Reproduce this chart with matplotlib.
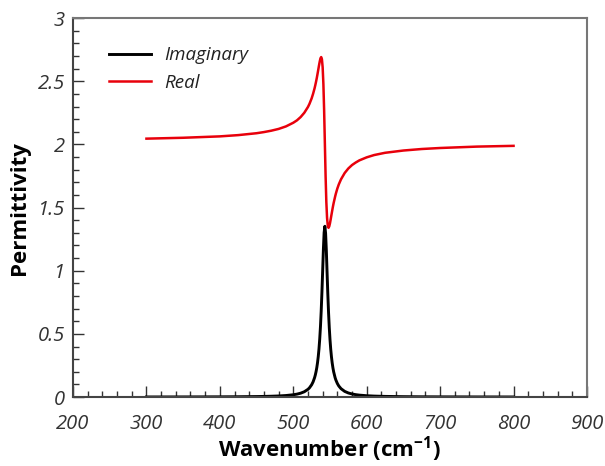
import matplotlib

matplotlib.use("Agg")
import matplotlib.pyplot as plt
from matplotlib.ticker import FuncFormatter, MultipleLocator

plt.rcParams["font.family"] = ["Open Sans", "DejaVu Sans"]
plt.rcParams["mathtext.fontset"] = "custom"
plt.rcParams["mathtext.rm"] = "Open Sans"
plt.rcParams["mathtext.bf"] = "Open Sans:bold"

# valeurs (nombre d'onde en cm-1)
wavenumber = [
    300, 350, 400, 425, 450, 460, 470, 480, 490, 500, 505, 510, 515, 520,
    522, 525, 527, 529, 530, 531, 532, 533, 534, 535, 536, 537, 538, 539,
    540, 541, 542, 543, 544, 545, 546, 547, 548, 549, 550, 551, 552, 553,
    554, 555, 557, 558, 560, 562, 565, 570, 575, 580, 585, 590, 600, 610,
    625, 650, 675, 700, 750, 800,
]
real_part = [
    2.046, 2.053, 2.064, 2.074, 2.089, 2.098, 2.109, 2.123, 2.143, 2.172,
    2.191, 2.217, 2.251, 2.297, 2.321, 2.365, 2.402, 2.445, 2.470, 2.497,
    2.526, 2.558, 2.591, 2.625, 2.656, 2.682, 2.692, 2.675, 2.611, 2.479,
    2.271, 2.010, 1.751, 1.546, 1.418, 1.356, 1.340, 1.352, 1.377, 1.409,
    1.443, 1.476, 1.508, 1.537, 1.588, 1.611, 1.651, 1.684, 1.724, 1.774,
    1.810, 1.837, 1.857, 1.874, 1.898, 1.916, 1.934, 1.952, 1.964, 1.972,
    1.983, 1.989,
]
imag_part = [
    0.0005, 0.0009, 0.0016, 0.0024, 0.0039, 0.0049, 0.0063, 0.0084, 0.0119,
    0.0180, 0.0230, 0.0304, 0.0418, 0.0611, 0.0727, 0.0971, 0.1206, 0.1534,
    0.1747, 0.2006, 0.2323, 0.2714, 0.3201, 0.3814, 0.4588, 0.5566, 0.6792,
    0.8282, 0.9982, 1.1693, 1.3024, 1.3521, 1.2978, 1.1619, 0.9900, 0.8207,
    0.6729, 0.5516, 0.4548, 0.3782, 0.3176, 0.2694, 0.2307, 0.1993, 0.1525,
    0.1348, 0.1074, 0.0873, 0.0663, 0.0447, 0.0321, 0.0242, 0.0188, 0.0151,
    0.0103, 0.0075, 0.0050, 0.0029, 0.0019, 0.0014, 0.0008, 0.0005,
]

fig = plt.figure(figsize=(6.05, 4.66), dpi=100)
ax = fig.add_axes([0.1207, 0.148, 0.8495, 0.813])

ax.plot(wavenumber, imag_part, color="black", linewidth=2.1, label="Imaginary")
ax.plot(wavenumber, real_part, color="#e8000b", linewidth=1.8, label="Real")

ax.set_xlim(200, 900)
ax.set_ylim(0, 3)
ax.xaxis.set_major_locator(MultipleLocator(100))
ax.xaxis.set_minor_locator(MultipleLocator(20))
ax.yaxis.set_major_locator(MultipleLocator(0.5))
ax.yaxis.set_minor_locator(MultipleLocator(0.1))
ax.yaxis.set_major_formatter(FuncFormatter(lambda v, _: f"{v:g}"))

ax.tick_params(which="both", direction="in", top=False, right=False,
               width=1.0, color="#333333")
ax.tick_params(which="major", length=8, labelsize=14.5)
ax.tick_params(which="minor", length=4.5)
ax.tick_params(axis="x", which="major", pad=12)
ax.tick_params(axis="y", which="major", pad=6)
for label in ax.get_xticklabels() + ax.get_yticklabels():
    label.set_fontstyle("italic")
    label.set_color("#333333")

for side in ("left", "bottom"):
    ax.spines[side].set_color("#444444")
    ax.spines[side].set_linewidth(1.5)
for side in ("top", "right"):
    ax.spines[side].set_color("#777777")
    ax.spines[side].set_linewidth(1.5)

ax.set_xlabel(r"Wavenumber (cm$^{\mathbf{-1}}$)", fontsize=16,
              fontweight="bold", labelpad=0)
ax.set_ylabel("Permittivity", fontsize=16, fontweight="bold", labelpad=5)

legend = ax.legend(loc="upper left", frameon=False, handlelength=2.25,
                   handletextpad=0.7, borderaxespad=1.1, labelspacing=0.5,
                   prop={"style": "italic", "size": 13.5},
                   bbox_to_anchor=(0.015, 1.0))
for text in legend.get_texts():
    text.set_color("#222222")

fig.savefig("out.png", dpi=100)
